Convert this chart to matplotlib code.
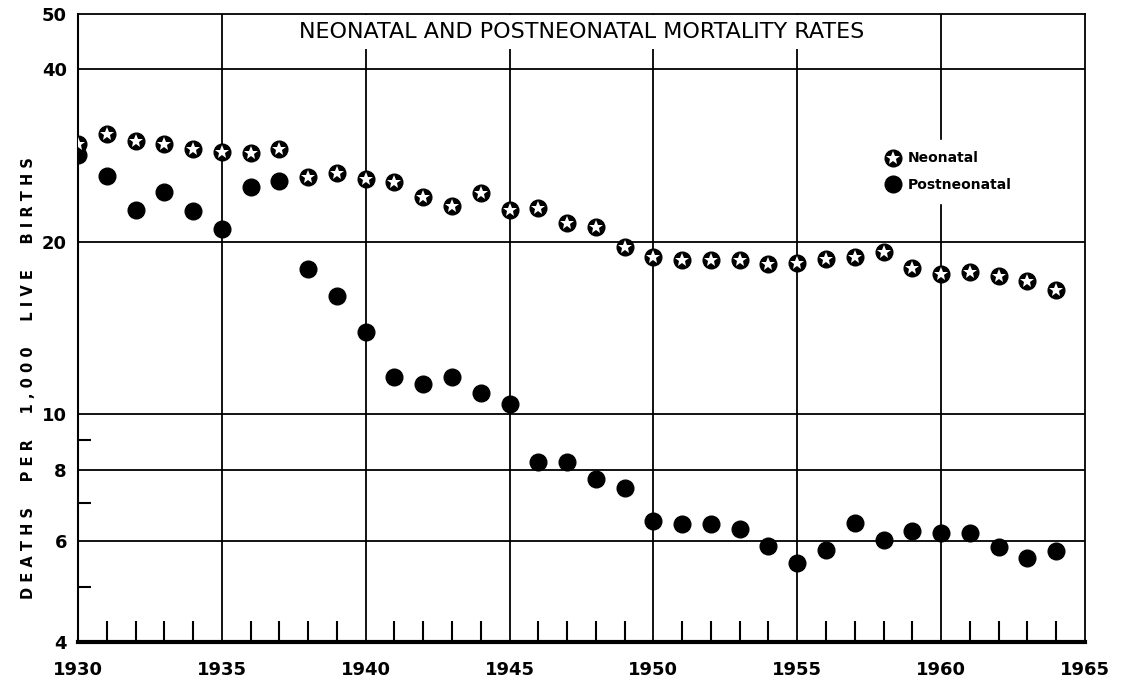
import numpy as np
import matplotlib.pyplot as plt
from matplotlib.ticker import FixedLocator, NullFormatter

years = list(range(1930, 1965))

neonatal = [29.6, 30.9, 30.0, 29.7, 29.1, 28.7, 28.6, 29.0, 26.0, 26.4,
            25.8, 25.4, 24.0, 23.1, 24.3, 22.7, 22.9, 21.6, 21.2, 19.6,
            18.8, 18.6, 18.6, 18.6, 18.3, 18.4, 18.7, 18.8, 19.2, 18.0,
            17.6, 17.7, 17.4, 17.1, 16.5]

postneonatal = [28.4, 26.1, 22.7, 24.4, 22.6, 21.1, 24.9, 25.5, 17.9, 16.1,
                13.9, 11.6, 11.3, 11.6, 10.9, 10.4, 8.26, 8.26, 7.71, 7.44,
                6.52, 6.44, 6.44, 6.31, 5.89, 5.49, 5.80, 6.46, 6.03, 6.26,
                6.21, 6.21, 5.87, 5.61, 5.77]

x_labels = [1930, 1935, 1940, 1945, 1950, 1955, 1960, 1965]
y_labels = [4, 6, 8, 10, 20, 40, 50]
y_grid = [6, 8, 10, 20, 40]
y_minor = [5, 7, 9]


def main():
    fig = plt.figure(figsize=(11.27, 6.83), dpi=100)
    ax = fig.add_axes([0.0692, 0.0600, 0.8935, 0.9195])

    ax.set_yscale('log')
    ax.set_ylim(4, 50)
    ax.set_xlim(1930, 1965)

    # grid lines
    for y in y_grid:
        ax.axhline(y, color='black', lw=1.3, zorder=1)
    for x in x_labels[1:-1]:
        ax.axvline(x, color='black', lw=1.3, zorder=1)

    # points
    ax.plot(years, postneonatal, 'o', color='black', markersize=12, zorder=4)
    ax.plot(years, neonatal, 'o', color='black', markersize=12, zorder=4)
    ax.plot(years, neonatal, '*', color='white', markersize=10,
            markeredgewidth=0, zorder=5)

    # legend
    h1 = ax.plot([], [], 'o', color='black', markersize=12)[0]
    h2 = ax.plot([], [], '*', color='white', markersize=10, markeredgewidth=0)[0]
    h3 = ax.plot([], [], 'o', color='black', markersize=12)[0]
    leg = ax.legend([(h1, h2), h3], ['Neonatal', 'Postneonatal'],
                    loc='upper left', bbox_to_anchor=(0.785, 0.81),
                    frameon=True, fancybox=False, edgecolor='white',
                    framealpha=1, handlelength=1.0, handletextpad=0.5,
                    labelspacing=0.9, borderpad=0.8,
                    prop={'weight': 'bold', 'size': 10})
    leg.set_zorder(6)

    ax.text(0.5, 0.987, 'NEONATAL AND POSTNEONATAL MORTALITY RATES',
            transform=ax.transAxes, ha='center', va='top', fontsize=16,
            bbox=dict(facecolor='white', edgecolor='none', pad=5), zorder=6)

    # ticks
    ax.yaxis.set_major_locator(FixedLocator(y_labels))
    ax.yaxis.set_minor_locator(FixedLocator(y_minor))
    ax.yaxis.set_minor_formatter(NullFormatter())
    ax.set_yticklabels([str(v) for v in y_labels])
    ax.set_xticks(x_labels)
    ax.set_xticklabels([str(v) for v in x_labels])
    ax.set_xticks(years[1:], minor=True)

    ax.tick_params(axis='both', which='major', length=0, labelsize=13,
                   pad=8)
    ax.tick_params(axis='x', which='minor', direction='in', length=15,
                   width=1.5)
    ax.tick_params(axis='y', which='minor', direction='in', length=9,
                   width=1.5)
    for lab in ax.get_xticklabels() + ax.get_yticklabels():
        lab.set_fontweight('bold')
    ax.tick_params(axis='x', which='major', pad=14)

    ax.spines['bottom'].set_linewidth(3)
    ax.spines['left'].set_linewidth(1.5)
    ax.spines['top'].set_linewidth(1.3)
    ax.spines['right'].set_linewidth(1.3)

    ylabel = ' '.join('DEATHS PER 1,000 LIVE BIRTHS').replace('   ', '     ')
    ax.set_ylabel(ylabel, fontsize=10.5, fontweight='bold')
    ax.yaxis.set_label_coords(-0.042, 0.42)

    fig.savefig('out.png', dpi=100)


if __name__ == "__main__":
    main()
